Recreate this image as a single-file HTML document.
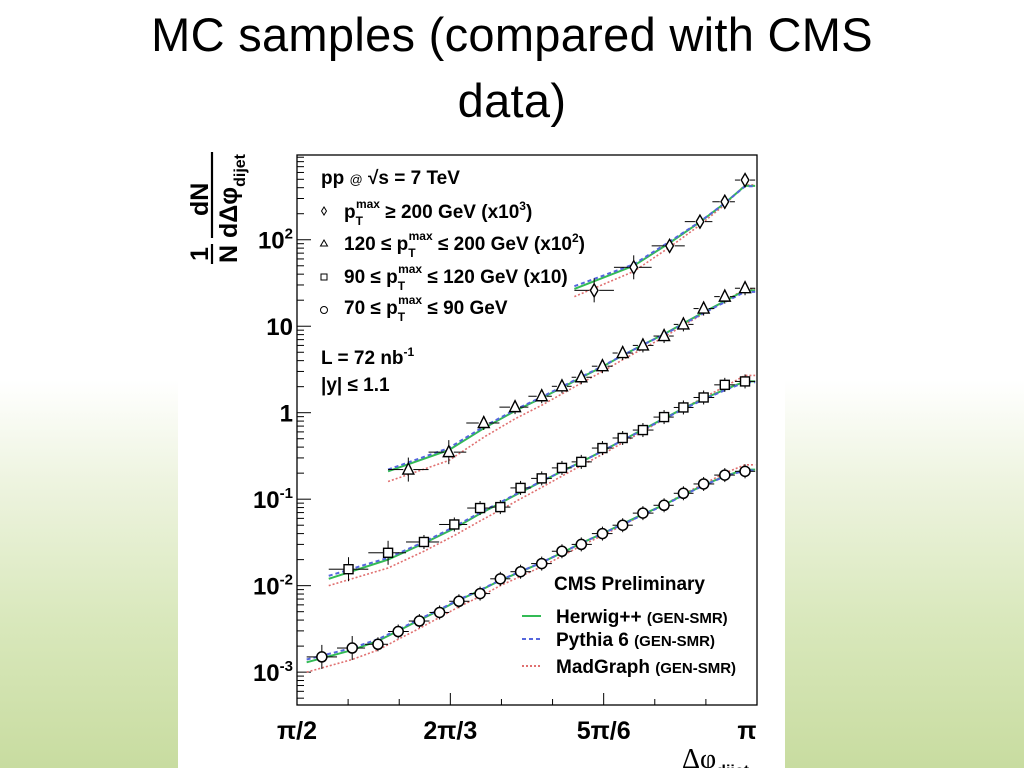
<!DOCTYPE html>
<html><head><meta charset="utf-8">
<style>
html,body{margin:0;padding:0}
body{width:1024px;height:768px;overflow:hidden;position:relative;font-family:"Liberation Sans",sans-serif;
background:linear-gradient(to bottom,#fff 0,#fff 380px,#eef4e0 480px,#d9e8bc 620px,#c8dca0 768px);}
#title{position:absolute;left:0;top:2px;width:1024px;text-align:center;font-size:47px;line-height:66px;color:#000;letter-spacing:0.3px}
#panel{position:absolute;left:178px;top:140px;width:607px;height:628px;background:#fff}
svg{position:absolute;left:0;top:0}
</style></head><body>
<div id="title">MC samples (compared with CMS<br>data)</div>
<div id="panel"></div>
<svg id="chart" width="1024" height="768" font-family="Liberation Sans, DejaVu Sans, sans-serif"></svg>
<script>
// data (x in units of pi)
const xCircle=[0.527,0.560,0.588,0.610,0.633,0.655,0.676,0.699,0.721,0.743,0.766,0.788,0.809,0.832,0.854,0.876,0.899,0.920,0.942,0.965,0.987];
const yCircle=[0.0015,0.0019,0.0021,0.00295,0.0039,0.0049,0.0066,0.0081,0.012,0.0145,0.018,0.025,0.030,0.040,0.050,0.069,0.085,0.117,0.15,0.19,0.21];
const xSquare=[0.556,0.599,0.638,0.671,0.699,0.721,0.743,0.766,0.788,0.809,0.832,0.854,0.876,0.899,0.920,0.942,0.965,0.987];
const ySquare=[0.0155,0.024,0.032,0.051,0.079,0.081,0.135,0.174,0.23,0.27,0.39,0.51,0.63,0.89,1.15,1.5,2.1,2.3];
const xTri=[0.621,0.665,0.703,0.737,0.766,0.788,0.809,0.832,0.854,0.876,0.899,0.920,0.942,0.965,0.987];
const yTri=[0.22,0.35,0.76,1.16,1.55,2.02,2.57,3.45,4.9,6.0,7.7,10.5,16,22,27.5];
const xDia=[0.823,0.866,0.905,0.938,0.965,0.987];
const yDia=[26,48,85,162,275,490];
// MC predictions (Herwig / Pythia / MadGraph) per series
const herwigCircle=[0.0013,0.0018,0.0023,0.0030,0.0040,0.0052,0.0068,0.0088,0.0115,0.0145,0.0185,0.024,0.031,0.040,0.052,0.067,0.086,0.112,0.145,0.185,0.22];
const pythiaCircle=[0.0014,0.0019,0.0024,0.0031,0.0041,0.0053,0.0069,0.0089,0.0116,0.0146,0.0186,0.024,0.031,0.040,0.051,0.066,0.085,0.111,0.144,0.183,0.215];
const madCircle=[0.0010,0.0014,0.0018,0.0024,0.0032,0.0043,0.0057,0.0075,0.0100,0.0128,0.0166,0.022,0.029,0.038,0.050,0.066,0.086,0.115,0.15,0.20,0.25];
const herwigSquare=[0.012,0.020,0.031,0.046,0.068,0.090,0.120,0.160,0.21,0.27,0.36,0.48,0.64,0.86,1.12,1.45,1.85,2.3];
const pythiaSquare=[0.013,0.021,0.032,0.048,0.070,0.092,0.122,0.162,0.21,0.27,0.36,0.48,0.63,0.85,1.10,1.42,1.82,2.25];
const madSquare=[0.010,0.016,0.025,0.038,0.056,0.075,0.101,0.137,0.185,0.245,0.33,0.45,0.61,0.84,1.12,1.5,2.0,2.7];
const herwigTri=[0.21,0.37,0.66,1.05,1.48,1.95,2.55,3.4,4.6,6.1,8.1,10.8,14.5,19.5,26];
const pythiaTri=[0.22,0.39,0.69,1.08,1.52,2.0,2.6,3.45,4.6,6.1,8.0,10.6,14.2,19,25];
const madTri=[0.16,0.28,0.52,0.85,1.22,1.65,2.2,3.0,4.1,5.5,7.5,10.2,14,19.5,27];
const herwigDia=[27,50,92,160,265,420];
const pythiaDia=[29,52,95,162,265,415];
const madDia=[22,43,82,148,255,430];
const yTickVals=[0.001,0.01,0.1,1,10,100];
const yTickLabels=[["10","-3"],["10","-2"],["10","-1"],["1",""],["10",""],["10","2"]];
const xTickVals=[0.5,2/3,5/6,1];
const xTickLabels=["\u03c0/2","2\u03c0/3","5\u03c0/6","\u03c0"];

const NS="http://www.w3.org/2000/svg";
const svg=document.getElementById('chart');
const L=297,R=757,T=155,B=705;
const LOGMIN=-3.38,LOGMAX=2.98;
function X(v){return L+(v-0.5)/0.5*(R-L);}
function Y(v){return B-(Math.log10(v)-LOGMIN)/(LOGMAX-LOGMIN)*(B-T);}
function mk(tag,attrs,parent){const e=document.createElementNS(NS,tag);for(const k in attrs)e.setAttribute(k,attrs[k]);(parent||svg).appendChild(e);return e;}

const frame=mk('rect',{x:L,y:T,width:R-L,height:B-T,fill:'none',stroke:'#000','stroke-width':1.3});



const yAxis=mk('g',{});


for(let d=-4;d<=3;d++){for(let m=1;m<10;m++){const v=m*Math.pow(10,d);const lv=Math.log10(v);if(lv<LOGMIN||lv>LOGMAX)continue;const y=Y(v);const len=m==1?14:7;
mk('line',{x1:L,x2:L+len,y1:y,y2:y,stroke:'#000','stroke-width':1},yAxis);}}
yTickVals.forEach((v,i)=>{const t=mk('text',{x:L-4,y:Y(v)+9,'text-anchor':'end','font-size':24,'font-weight':'bold'},yAxis);


t.textContent=yTickLabels[i][0];
if(yTickLabels[i][1]){const s=mk('tspan',{dy:-10,'font-size':15},t);s.textContent=yTickLabels[i][1];}});
const xAxis=mk('g',{});


for(let k=0;k<=9;k++){const x=L+k*(R-L)/9;const len=k%3==0?12:6;mk('line',{x1:x,x2:x,y1:B,y2:B-len,stroke:'#000','stroke-width':1},xAxis);}
xTickVals.forEach((v,i)=>{const t=mk('text',{x:X(v)+(i==3?-10:0),y:B+34,'text-anchor':'middle','font-size':25,'font-weight':'bold'},xAxis);


t.textContent=xTickLabels[i];});
const xt=mk('text',{x:682,y:768,'font-size':28,'font-family':'Liberation Serif, serif'});


xt.innerHTML='\u0394\u03c6<tspan dy="8" font-size="16" font-weight="bold" font-family="Liberation Sans, sans-serif">dijet</tspan>';
// y title (rotated frame: x goes up, y goes right)
const yt=mk('g',{transform:'translate(212,264) rotate(-90)','font-weight':'bold'});


mk('text',{x:3,y:-4,'font-size':25},yt).textContent='1';
mk('line',{x1:0,x2:20,y1:0,y2:0,stroke:'#000','stroke-width':2.2},yt);
mk('text',{x:1,y:25,'font-size':25},yt).textContent='N';
mk('text',{x:48,y:-4,'font-size':25},yt).textContent='dN';
mk('line',{x1:26,x2:112,y1:0,y2:0,stroke:'#000','stroke-width':2.2},yt);
const yb=mk('text',{x:26,y:25,'font-size':25},yt);yb.innerHTML='d\u0394\u03c6<tspan dy="8" font-size="16">dijet</tspan>';

function edges(xs){const e=[];for(let i=0;i<xs.length;i++){const lo=i==0?xs[0]-(xs[1]-xs[0])/2:(xs[i-1]+xs[i])/2;const hi=i==xs.length-1?Math.min(1,xs[i]+(xs[i]-xs[i-1])/2):(xs[i]+xs[i+1])/2;e.push([lo,hi]);}return e;}
function mcLine(xs,ys,color,dash,w,name){const e=edges(xs);let d='';
xs.forEach((x,i)=>{d+=(i?'L':'M')+(i==0?X(e[0][0]):X(x))+','+Y(ys[i]);});d+='L'+X(e[xs.length-1][1])+','+Y(ys[ys.length-1]);
const p=mk('path',{d:d,fill:'none',stroke:color,'stroke-width':w,'stroke-dasharray':dash});

}
function series(xs,ys,shape,name){const g=mk('g',{});


const e=edges(xs);xs.forEach((x,i)=>{const cx=X(x),cy=Y(ys[i]);
mk('line',{x1:X(e[i][0]),x2:cx-5,y1:cy,y2:cy,stroke:'#000','stroke-width':1},g);
mk('line',{x1:cx+5,x2:X(e[i][1]),y1:cy,y2:cy,stroke:'#000','stroke-width':1},g);
const er=i<2?9:4;mk('line',{x1:cx,x2:cx,y1:cy-er-3,y2:cy+er+3,stroke:'#000','stroke-width':1},g);
let m;
if(shape=='circle')m=mk('circle',{cx:cx,cy:cy,r:5,fill:'#fff',stroke:'#000','stroke-width':1.5},g);
else if(shape=='square')m=mk('rect',{x:cx-4.5,y:cy-4.5,width:9,height:9,fill:'#fff',stroke:'#000','stroke-width':1.4},g);
else if(shape=='tri')m=mk('polygon',{points:`${cx},${cy-6.5} ${cx-5.5},${cy+4.5} ${cx+5.5},${cy+4.5}`,fill:'#fff',stroke:'#000','stroke-width':1.4},g);
else m=mk('polygon',{points:`${cx},${cy-6.5} ${cx-3.8},${cy} ${cx},${cy+6.5} ${cx+3.8},${cy}`,fill:'#fff',stroke:'#000','stroke-width':1.4},g);

});}

[[xCircle,herwigCircle,pythiaCircle,madCircle],[xSquare,herwigSquare,pythiaSquare,madSquare],[xTri,herwigTri,pythiaTri,madTri],[xDia,herwigDia,pythiaDia,madDia]].forEach(s=>{
mcLine(s[0],s[3],'#e07070','2,2',1.6,'madgraph-line');
mcLine(s[0],s[1],'#33bb55','',2,'herwig-line');
mcLine(s[0],s[2],'#5566dd','4,3',2,'pythia-line');});
series(xCircle,yCircle,'circle','series-70-90');
series(xSquare,ySquare,'square','series-90-120');
series(xTri,yTri,'tri','series-120-200');
series(xDia,yDia,'dia','series-200plus');

const lg=mk('g',{'font-weight':'bold'});


function txt(x,y,html,size){const t=mk('text',{x:x,y:y,'font-size':size||19},lg);t.innerHTML=html;return t;}
txt(321,184,'pp <tspan font-size="13" font-weight="normal">@</tspan> \u221as = 7 TeV');
mk('polygon',{points:'324,207 321.5,211 324,215 326.5,211',fill:'none',stroke:'#000'},lg);
txt(344,218,'p<tspan dy="7" font-size="12">T</tspan><tspan dx="-7" dy="-17" font-size="12">max</tspan><tspan dy="10"> \u2265 200 GeV (x10</tspan><tspan dy="-8" font-size="12">3</tspan><tspan dy="8">)</tspan>');
mk('polygon',{points:'324,240 320.5,246 327.5,246',fill:'none',stroke:'#000'},lg);
txt(344,250,'120 \u2264 p<tspan dy="7" font-size="12">T</tspan><tspan dx="-7" dy="-17" font-size="12">max</tspan><tspan dy="10"> \u2264 200 GeV (x10</tspan><tspan dy="-8" font-size="12">2</tspan><tspan dy="8">)</tspan>');
mk('rect',{x:321,y:274,width:6,height:6,fill:'none',stroke:'#000'},lg);
txt(344,283,'90 \u2264 p<tspan dy="7" font-size="12">T</tspan><tspan dx="-7" dy="-17" font-size="12">max</tspan><tspan dy="10"> \u2264 120 GeV (x10)</tspan>');
mk('circle',{cx:324,cy:310,r:3.5,fill:'none',stroke:'#000'},lg);
txt(344,314,'70 \u2264 p<tspan dy="7" font-size="12">T</tspan><tspan dx="-7" dy="-17" font-size="12">max</tspan><tspan dy="10"> \u2264 90 GeV</tspan>');
txt(321,364,'L = 72 nb<tspan dy="-8" font-size="12">-1</tspan>');
txt(321,391,'|y| \u2264 1.1');
txt(554,590,'CMS Preliminary');
mk('line',{x1:522,x2:541,y1:616,y2:616,stroke:'#33bb55','stroke-width':2},lg);
txt(556,623,'Herwig++ <tspan font-size="15">(GEN-SMR)</tspan>');
mk('line',{x1:522,x2:541,y1:639,y2:639,stroke:'#5566dd','stroke-width':2,'stroke-dasharray':'4,3'},lg);
txt(556,646,'Pythia 6 <tspan font-size="15">(GEN-SMR)</tspan>');
mk('line',{x1:522,x2:541,y1:666,y2:666,stroke:'#e07070','stroke-width':2,'stroke-dasharray':'2,2'},lg);
txt(556,673,'MadGraph <tspan font-size="15">(GEN-SMR)</tspan>');
</script>
</body></html>
